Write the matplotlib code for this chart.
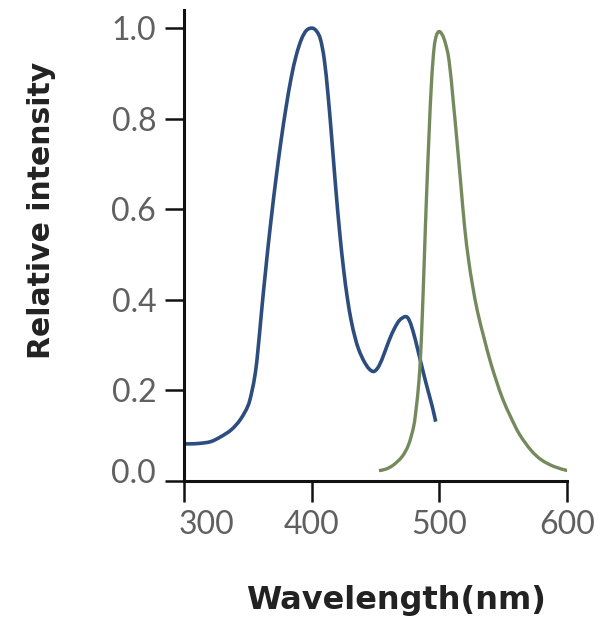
import matplotlib
matplotlib.use("Agg")
import matplotlib.pyplot as plt
import matplotlib.transforms as mtransforms
from matplotlib.path import Path
from matplotlib.patches import PathPatch

# Excitation spectrum (blue)
ex_wl = [300, 304, 312, 321, 329, 337, 344, 350, 353, 356, 358, 360, 362, 364, 366,
         369, 372, 376, 380, 384, 388, 392, 396, 400.5, 404, 407, 410, 413, 416, 419,
         422, 425, 428, 431, 434, 437, 441, 445, 449, 453, 457, 461, 465, 469, 474,
         477, 480, 483, 486, 489, 492, 495, 497.3]
ex_int = [0.082, 0.082, 0.083, 0.087, 0.098, 0.113, 0.135, 0.165, 0.195, 0.24, 0.29,
          0.35, 0.41, 0.465, 0.52, 0.595, 0.665, 0.75, 0.825, 0.89, 0.94, 0.975, 0.995,
          1.0, 0.993, 0.975, 0.93, 0.85, 0.75, 0.645, 0.55, 0.47, 0.405, 0.355, 0.318,
          0.29, 0.265, 0.248, 0.242, 0.255, 0.282, 0.312, 0.337, 0.355, 0.363, 0.352,
          0.326, 0.293, 0.258, 0.224, 0.192, 0.16, 0.131]

# Emission spectrum (green)
em_wl = [452.8, 458, 464, 471, 476, 480, 482, 484, 485.5, 487, 488.5, 490, 492, 494,
         496, 498, 500.6, 504, 507.7, 511, 514, 517, 520, 523, 526, 530, 535, 540, 545,
         550, 556, 563, 572, 580, 590, 600.5]
em_int = [0.023, 0.026, 0.035, 0.054, 0.08, 0.12, 0.16, 0.215, 0.28, 0.38, 0.5, 0.62,
          0.76, 0.88, 0.955, 0.985, 0.992, 0.975, 0.93, 0.84, 0.75, 0.655, 0.56, 0.49,
          0.435, 0.375, 0.318, 0.265, 0.22, 0.18, 0.142, 0.103, 0.068, 0.047, 0.032,
          0.023]

x_ticks = [300, 400, 500, 600]
y_ticks = [0.0, 0.2, 0.4, 0.6, 0.8, 1.0]
y_tick_labels = ["0.0", "0.2", "0.4", "0.6", "0.8", "1.0"]


def smooth_path(xs, ys):
    """Catmull-Rom curve through the data points, drawn as cubic Bezier segments."""
    pts = list(zip(xs, ys))
    verts = [pts[0]]
    codes = [Path.MOVETO]
    n = len(pts)
    for i in range(n - 1):
        p0 = pts[i - 1] if i > 0 else pts[i]
        p1 = pts[i]
        p2 = pts[i + 1]
        p3 = pts[i + 2] if i + 2 < n else pts[i + 1]
        c1 = (p1[0] + (p2[0] - p0[0]) / 6.0, p1[1] + (p2[1] - p0[1]) / 6.0)
        c2 = (p2[0] - (p3[0] - p1[0]) / 6.0, p2[1] - (p3[1] - p1[1]) / 6.0)
        verts += [c1, c2, p2]
        codes += [Path.CURVE4, Path.CURVE4, Path.CURVE4]
    return Path(verts, codes)


plt.rcParams['font.family'] = ['Lato', 'DejaVu Sans']

fig = plt.figure(figsize=(6.06, 6.26), dpi=100)
ax = fig.add_axes([184 / 606, 145 / 626, (566.7 - 184) / 606, 471 / 626])

ax.add_patch(PathPatch(smooth_path(ex_wl, ex_int), facecolor='none',
                       edgecolor="#2d4d7e", lw=2.6, capstyle='butt'))
ax.add_patch(PathPatch(smooth_path(em_wl, em_int), facecolor='none',
                       edgecolor="#758a5c", lw=2.4, capstyle='butt'))

ax.set_xlim(300, 600)
ax.set_ylim(0, 1.04)

for s in ["top", "right"]:
    ax.spines[s].set_visible(False)
for s in ["left", "bottom"]:
    ax.spines[s].set_linewidth(2.2)
    ax.spines[s].set_color("#111111")

ax.set_xticks(x_ticks)
ax.set_xticklabels([str(v) for v in x_ticks])
ax.set_yticks(y_ticks)
ax.set_yticklabels(y_tick_labels)

ax.tick_params(axis='y', direction='out', length=14, width=1.8, color="#111111",
               labelsize=23, labelcolor="#606060", pad=6)
ax.tick_params(axis='x', direction='out', length=15, width=1.8, color="#111111",
               labelsize=23, labelcolor="#606060", pad=6)

# offset the first labels as in the reference
lbl = ax.get_xticklabels()[0]
lbl.set_transform(lbl.get_transform() + mtransforms.ScaledTranslation(0.22, 0, fig.dpi_scale_trans))
lbl0 = ax.get_yticklabels()[0]
lbl0.set_transform(lbl0.get_transform() + mtransforms.ScaledTranslation(0, 0.1, fig.dpi_scale_trans))

ax.set_xlabel("Wavelength(nm)", fontsize=23, fontweight='bold', color="#222222",
              family=['DejaVu Sans'])
ax.xaxis.set_label_coords((396 - 184) / (566.7 - 184), -(600 - 481) / 471)
ax.xaxis.label.set_va('center')
ax.set_ylabel("Relative intensity", fontsize=21.5, fontweight='bold', color="#222222",
              family=['DejaVu Sans'])
ax.yaxis.set_label_coords(-(184 - 42) / (566.7 - 184), (481 - 210) / 471)
ax.yaxis.label.set_va('center')

fig.savefig("out.png", dpi=100, facecolor="white")
